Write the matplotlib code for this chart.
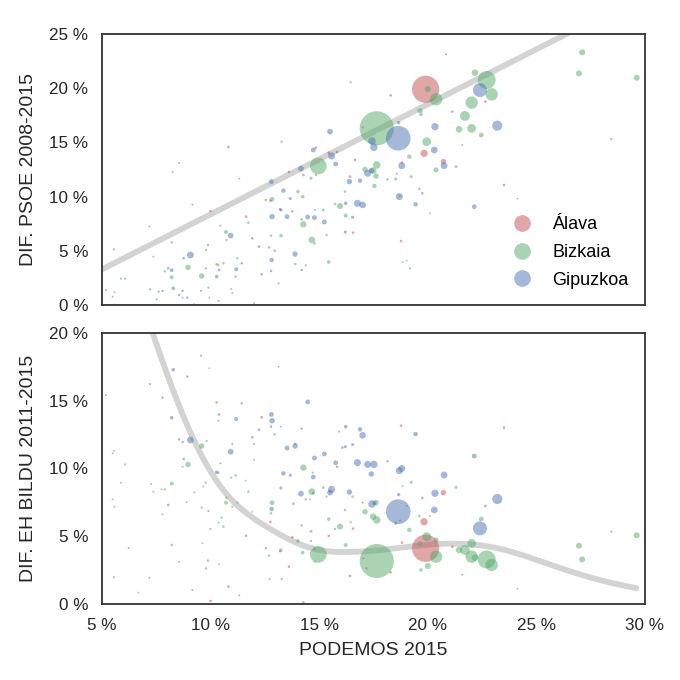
import numpy as np
import matplotlib
matplotlib.use("Agg")
import matplotlib.pyplot as plt
from matplotlib.ticker import FuncFormatter, MultipleLocator
from matplotlib.lines import Line2D

nan = np.nan

# ---------------- data ----------------
# Álava
alava_podemos = [19.90, 18.29, 22.65, 21.13, 21.59, 19.83, 20.72, 19.75, 18.77, 18.81,
                 23.51, 28.45, 20.84, 16.45, 17.00, 16.42, 16.56, 16.65, 15.44, 14.85,
                 14.85, 14.27, 13.76, 13.61, 13.27, 13.20, 12.75, 12.54, 11.63, 11.32,
                 10.82, 10.28, 10.00, 9.16, 8.55, 8.25, 7.18, 5.55, 13.81, 12.72,
                 17.03, 17.18, 15.47, 18.72, 18.57]
alava_psoe = [19.90, 19.34, 18.76, 17.84, 14.76, 13.99, 13.22, 10.30, 5.90, 13.13,
              11.07, 15.31, 23.12, 20.54, 16.39, 11.84, 6.67, 13.38, 14.05, 14.51,
              12.00, 11.99, 8.64, 12.27, 15.07, 8.83, 9.62, 9.69, 8.15, 11.66,
              14.58, 3.75, 8.67, 9.26, 13.10, 12.27, 7.23, 5.13, nan, nan,
              nan, nan, nan, 10.06, 12.09]
alava_bildu = [4.11, 2.34, 7.23, 4.23, 2.16, 6.07, 8.22, 7.82, 13.16, 4.53,
               13.01, 5.34, nan, 6.03, 7.48, 2.07, 5.56, nan, 5.02, nan,
               nan, 0.10, 4.92, 2.75, 1.84, 3.90, 6.05, 4.11, 5.04, 0.64,
               1.28, 14.88, 0.22, 1.03, 3.10, nan, 1.94, 1.97, 7.40, 1.84,
               3.37, 2.63, 8.30, 6.15, nan]
alava_pop = [220, 1.2, 1.2, 1.2, 0.3, 15, 8, 1.2, 1.2, 1.2,
             1.2, 0.5, 0.3, 0.3, 0.5, 1.2, 1.2, 1.2, 1.2, 1.2,
             0.8, 1.2, 1.2, 1.2, 0.5, 1.2, 1.2, 0.8, 1.2, 0.3,
             1.2, 1.2, 1.2, 0.3, 0.3, 0.3, 0.3, 0.5, 1.2, 0.3,
             0.8, 0.8, 0.3, 0.3, 0.3]

# Bizkaia
bizkaia_podemos = [17.65, 22.71, 14.96, 22.94, 20.38, 22.02, 21.71, 22.02, 21.44, 22.17,
                   22.46, 19.95, 20.00, 26.96, 27.11, 29.62, 20.38, 19.64, 19.69, 19.61,
                   19.15, 19.24, 18.52, 21.30, 24.12, 20.10, 18.84, 19.03, 17.65, 17.49,
                   17.62, 17.11, 17.54, 14.27, 14.66, 15.96, 16.22, 12.83, 10.71, 8.96,
                   9.59, 8.21, 14.02, 14.24, 15.44, 13.24, 14.62, 15.19, 14.80, 14.19,
                   14.78, 13.90, 12.69, 12.95, 12.78, 11.74, 10.73, 8.21, 7.36, 9.88,
                   9.79, 7.89, 10.59, 10.36, 11.15, 11.23, 9.78, 5.88, 6.07, 5.57,
                   8.71, 9.25, 9.94, 10.95, 11.00, 14.38, 15.34, 15.73, 16.19, 16.54,
                   9.63, 7.26, 7.75, 7.79, 8.90, 9.59, 9.66, 10.51, 9.99, 10.39,
                   11.62, 12.00, 11.91, 5.49, 5.55, 6.67, 9.82, 14.62, 14.58, 14.70]
bizkaia_psoe = [16.30, 20.76, 12.82, 19.43, 18.97, 18.67, 17.44, 16.30, 16.21, 21.43,
                15.68, 15.07, 19.90, 21.37, 23.31, 20.97, 12.46, 17.93, 17.59, 10.70,
                13.68, 11.84, 11.62, 12.76, 9.81, 8.46, 3.95, 4.10, 12.92, 12.40,
                11.90, 12.50, 10.98, 7.44, 6.00, 9.13, 8.24, 9.75, 6.73, 3.47,
                2.68, 2.55, 10.46, 10.00, 3.97, 6.40, 11.69, 8.76, 8.76, 7.90,
                5.69, 3.78, 5.32, 5.01, 6.40, 7.59, 6.00, 5.78, 4.46, 5.53,
                5.07, 3.11, 3.84, 3.69, 2.62, 4.31, 3.38, 2.43, 2.43, 1.17,
                0.68, 0.06, 0.68, 1.48, 1.11, 3.66, 6.46, 9.32, 10.46, nan,
                nan, nan, nan, nan, nan, nan, nan, nan, nan, nan,
                nan, nan, nan, nan, nan, nan, nan, nan, nan, nan]
bizkaia_bildu = [3.17, 3.29, 3.66, 2.88, 3.49, 3.49, 3.98, 4.47, 3.98, 3.42,
                 6.27, 4.97, 2.80, 4.30, 3.29, 5.07, 4.72, 4.43, 2.51, 6.49,
                 5.46, 8.98, 5.95, 8.61, 1.13, 6.49, 8.71, 7.23, 6.20, 6.44,
                 7.48, 6.81, 7.45, 10.06, 8.29, 5.71, 4.35, 7.48, 7.48, 10.30,
                 11.66, 8.88, 4.65, 3.79, 6.27, 3.98, 5.36, 8.58, 3.12, 5.80,
                 4.06, 11.81, 3.57, 12.52, 6.69, 8.29, 7.85, 4.35, 8.29, 3.20,
                 2.63, 8.46, 5.71, 9.69, 9.49, 7.48, 8.95, 8.95, 10.30, 7.18,
                 10.13, 8.24, 17.39, 9.32, 7.18, 7.72, 7.92, 5.53, 6.94, 7.92,
                 4.48, 8.85, 8.46, 6.62, 7.50, 7.11, 8.66, 6.37, 5.53, 2.93,
                 9.10, 10.65, 6.81, 7.72, 11.30, 0.84, 12.03, 4.65, 7.72, 9.69]
bizkaia_pop = [345, 96, 82, 45, 45, 45, 28, 22, 12, 12,
               6, 22, 10, 10, 10, 10, 7, 7, 3, 1.2,
               5, 2, 2, 2, 0.3, 0.3, 0.3, 0.3, 16, 12,
               8, 8, 5, 11, 12, 10, 4, 6, 4, 8,
               8, 4, 3, 3, 3, 3, 2, 1.5, 0.5, 1.2,
               1.2, 1.2, 1.2, 1.2, 1.2, 1.2, 1.2, 1.2, 0.4, 1.2,
               1.0, 0.8, 1.2, 0.8, 1.2, 0.8, 0.8, 0.6, 0.8, 0.5,
               0.5, 0.5, 0.3, 0.6, 0.5, 0.8, 0.8, 1.2, 1.2, 1.2,
               0.3, 0.5, 0.5, 0.3, 0.3, 0.8, 0.3, 0.8, 0.8, 0.3,
               0.3, 0.3, 0.3, 0.3, 0.3, 0.3, 0.8, 1.0, 0.3, 0.8]

# Gipuzkoa
gipuzkoa_podemos = [18.64, 22.40, 23.20, 20.33, 20.30, 20.75, 18.80, 18.69, 19.44, 22.14,
                    18.14, 18.66, 19.18, 17.43, 17.52, 17.23, 17.40, 16.76, 17.00, 16.88,
                    16.39, 16.22, 16.54, 16.20, 15.57, 15.50, 15.76, 15.82, 15.24, 14.73,
                    14.78, 14.47, 14.16, 12.83, 12.80, 13.35, 13.52, 13.89, 13.67, 13.24,
                    12.81, 12.78, 12.35, 12.23, 11.92, 14.19, 13.13, 9.07, 10.92, 11.18,
                    10.28, 8.28, 8.21, 8.05, 8.76, 10.39, 9.56, 9.90, 5.18, 5.49,
                    7.21, 7.79, 8.93, 8.55, 8.71, 11.43, 10.45, 10.37, 12.00, 7.52,
                    6.23, 7.61, 16.07, 14.73, 13.23, 15.91, 10.36, 11.00]
gipuzkoa_psoe = [15.38, 19.83, 16.54, 16.45, 14.30, 12.85, 12.85, 10.00, 9.29, 9.07,
                 11.59, 16.82, 3.38, 15.13, 14.55, 12.15, 12.39, 9.38, 9.23, 11.47,
                 11.38, 9.38, 8.09, 6.73, 13.75, 15.99, 13.01, 14.11, 7.66, 14.30,
                 8.06, 8.12, 12.58, 8.15, 11.38, 10.55, 8.15, 4.70, 9.81, 8.76,
                 4.15, 3.14, 2.83, 5.38, 6.15, 3.23, 2.00, 4.61, 6.40, 3.29,
                 2.62, 1.53, 3.20, 3.38, 4.31, 3.23, 1.32, 1.60, 1.38, 0.77,
                 1.45, 1.30, 0.68, 0.92, 1.32, 3.84, 7.32, 0.37, 0.18, 0.52,
                 nan, 1.23, nan, nan, nan, nan, nan, nan]
gipuzkoa_bildu = [6.81, 5.58, 7.75, 8.17, 6.94, 9.52, 10.00, 9.84, 12.54, 10.92,
                  10.53, 8.07, nan, 7.38, 10.30, 10.30, 9.59, 10.43, 12.45, 12.89,
                  8.26, 13.09, 11.76, 11.61, 8.46, 8.22, 10.43, 10.13, 11.07, 9.37,
                  10.77, 14.91, 8.14, 13.53, 13.99, 9.64, 11.51, 11.66, 9.50, 8.56,
                  7.01, 13.09, 13.78, 12.86, 12.30, 12.94, 17.51, 12.10, 11.24, 13.65,
                  9.72, 17.29, 13.75, 7.31, 10.70, 13.98, 18.33, 6.86, 15.42, 11.12,
                  16.23, 15.23, 16.78, 12.15, 11.95, 14.81, 10.38, 6.00, 11.81, nan,
                  4.13, nan, 11.54, 8.17, 13.09, 12.72, 13.53, 11.81]
gipuzkoa_pop = [180, 58, 30, 15, 13, 13, 13, 14, 5, 6,
                0.8, 2.5, 0.3, 16, 16, 14, 8, 14, 12, 5,
                8, 3, 2, 2, 14, 9, 6, 1.0, 6, 6,
                6, 6, 9, 8, 6, 5, 6, 8, 2, 2,
                5, 1.2, 1.2, 1.2, 1.2, 0.8, 0.3, 13, 9, 4,
                3, 3, 3, 1.2, 1.2, 1.2, 0.5, 0.5, 0.3, 0.3,
                0.6, 0.8, 0.8, 1.0, 1.0, 1.0, 0.3, 0.3, 0.3, 0.3,
                0.3, 0.5, 1.0, 1.0, 0.3, 0.3, 0.3, 0.3]

province_names = ["Álava", "Bizkaia", "Gipuzkoa"]
province_colors = ["#C44E52", "#55A868", "#4C72B0"]

# trend line of the upper panel: slope, intercept
psoe_trend = [1.015, -1.785]
# trend curve of the lower panel, traced points
bildu_trend_x = [6.40, 7.29, 8.36, 9.08, 10.71, 11.81, 13.04, 14.12, 14.88, 15.65, 16.57,
                 17.65, 18.87, 20.41, 21.94, 23.48, 25.01, 26.55, 28.08, 29.62]
bildu_trend_y = [24.5, 19.97, 15.30, 12.10, 7.67, 6.44, 5.21, 4.28, 3.86, 3.79, 3.81,
                 3.93, 4.18, 4.48, 4.48, 4.11, 3.25, 2.39, 1.65, 1.16]

x_ticks = [5, 10, 15, 20, 25, 30]


def smooth_trace(xs, ys, sigma=0.75, step=0.02):
    """Gaussian-smoothed version of a traced polyline (linear extension at ends)."""
    xs = np.asarray(xs, float); ys = np.asarray(ys, float)
    pad = 4 * sigma
    g = np.arange(xs[0] - pad, xs[-1] + pad + step / 2, step)
    y = np.interp(g, xs, ys)
    sl0 = (ys[1] - ys[0]) / (xs[1] - xs[0])
    sl1 = (ys[-1] - ys[-2]) / (xs[-1] - xs[-2])
    y = np.where(g < xs[0], ys[0] + sl0 * (g - xs[0]), y)
    y = np.where(g > xs[-1], ys[-1] + sl1 * (g - xs[-1]), y)
    k = np.arange(-pad, pad + step / 2, step)
    w = np.exp(-0.5 * (k / sigma) ** 2); w /= w.sum()
    ys_s = np.convolve(y, w, mode='same')
    m = (g >= xs[0]) & (g <= xs[-1])
    return g[m], ys_s[m]


# ---------------- plot ----------------
plt.rcParams['font.family'] = ['Liberation Sans', 'DejaVu Sans']
fig = plt.figure(figsize=(6.8, 6.8), dpi=100)
ax1 = fig.add_axes([0.15, 0.5515, 0.7985, 0.3985])
ax2 = fig.add_axes([0.15, 0.1118, 0.7985, 0.3985], sharex=ax1)

size_k = 1.74
series = [
    (alava_podemos, alava_psoe, alava_bildu, alava_pop),
    (bizkaia_podemos, bizkaia_psoe, bizkaia_bildu, bizkaia_pop),
    (gipuzkoa_podemos, gipuzkoa_psoe, gipuzkoa_bildu, gipuzkoa_pop),
]

trend_color = "#d3d3d3"
xl = np.linspace(5.0, 29.62, 200)
ax1.plot(xl, psoe_trend[0] * xl + psoe_trend[1], color=trend_color, lw=4.2,
         solid_capstyle='round', zorder=1)
cx, cy = smooth_trace(bildu_trend_x, bildu_trend_y)
ax2.plot(cx, cy, color=trend_color, lw=4.2, solid_capstyle='round', zorder=1)

for (px, y1, y2, pop), col in zip(series, province_colors):
    px = np.array(px)
    s = np.array(pop) * size_k + 1.5
    ax1.scatter(px, np.array(y1, dtype=float), s=s, color=col, alpha=0.5,
                linewidths=0, zorder=2)
    ax2.scatter(px, np.array(y2, dtype=float), s=s, color=col, alpha=0.5,
                linewidths=0, zorder=2)

fmt = FuncFormatter(lambda v, p: f"{v:.0f} %")
for ax in (ax1, ax2):
    ax.set_xlim(5, 30)
    ax.set_xticks(x_ticks)
    ax.yaxis.set_major_locator(MultipleLocator(5))
    ax.xaxis.set_major_formatter(fmt)
    ax.yaxis.set_major_formatter(fmt)
    ax.tick_params(length=0, labelsize=12.3, pad=10, colors="#262626")
    for sp in ax.spines.values():
        sp.set_color("#333333")
        sp.set_linewidth(1.3)

ax1.set_ylim(0, 25)
ax2.set_ylim(0, 20)
ax1.tick_params(labelbottom=False)

lab = dict(fontsize=14, color="#262626")
ax1.set_ylabel("DIF. PSOE 2008-2015", labelpad=8.5, **lab)
ax2.set_ylabel("DIF. EH BILDU 2011-2015", labelpad=8.5, **lab)
ax2.set_xlabel("PODEMOS 2015", labelpad=6.5, **lab)

handles = [Line2D([], [], marker='o', ls='', markersize=12, color=c, alpha=0.5,
                  markeredgewidth=0) for c in province_colors]
ax1.legend(handles, province_names, loc='lower right', frameon=False,
           fontsize=13, handletextpad=0.7, labelspacing=0.6,
           bbox_to_anchor=(1.0, 0.0))

fig.savefig("out.png", dpi=100)
